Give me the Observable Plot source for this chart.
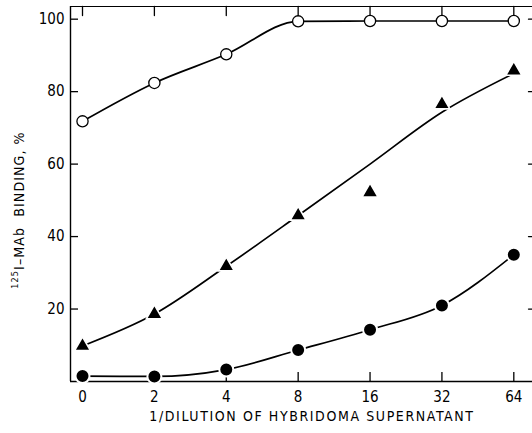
<!DOCTYPE html>
<html>
<head>
<meta charset="utf-8">
<script src="https://cdn.jsdelivr.net/npm/d3@7"></script>
<script src="https://cdn.jsdelivr.net/npm/@observablehq/plot@0.6"></script>
<style>
  html, body { margin: 0; padding: 0; background: #fff; }
  #chart svg { display: block; }
</style>
</head>
<body>
<div id="chart"></div>
<script>
// Categories (1/dilution), equally spaced
const dilutions = ["0", "2", "4", "8", "16", "32", "64"];
// Series values (% binding)
const openCircles   = [71.8, 82.4, 90.3, 99.4, 99.5, 99.5, 99.5];
const triangles     = [9.8, 18.6, 31.8, 45.8, 52.2, 76.5, 85.8];
const triangleFit   = [9.8, 18.6, 31.8, 45.8, 60.0, 74.3, 85.0];
const filledCircles = [1.5, 1.4, 3.3, 8.7, 14.3, 21.0, 35.0];
const yTicks = [20, 40, 60, 80, 100];

const idx = dilutions.map((_, i) => i);
const rows = (vals) => vals.map((v, i) => ({i, v}));

const font = "'DejaVu Sans Condensed', sans-serif";

// short straight tick drawn by a vector
const tickShape = {draw(context, l) { context.moveTo(0, 0); context.lineTo(0, -l); }};

const chart = Plot.plot({
  width: 532,
  height: 433,
  marginLeft: 70,
  marginRight: 0,
  marginTop: 6,
  marginBottom: 52,
  style: {fontFamily: font, fontSize: "15px", color: "#000", background: "#fff"},
  x: {domain: [-0.167, 6.26]},
  y: {domain: [0, 103.5]},
  marks: [
    // axes (inward ticks)
    Plot.axisY({ticks: yTicks, tickSize: -8, tickPadding: 14, tickFormat: d => String(d),
      label: null, fontSize: 15, strokeWidth: 1.3}),
    Plot.axisX({ticks: idx, tickSize: -9, tickPadding: 19, tickFormat: i => dilutions[i],
      label: null, fontSize: 15, strokeWidth: 1.3}),
    // right and top inward ticks
    Plot.vector(yTicks, {y: d => d, frameAnchor: "right", length: 4, rotate: -90,
      anchor: "start", shape: tickShape, stroke: "#000", strokeWidth: 1.3}),
    Plot.vector(idx, {x: d => d, frameAnchor: "top", length: 9, rotate: 180,
      anchor: "start", shape: tickShape, stroke: "#000", strokeWidth: 1.3}),
    // frame lines: left, bottom, top
    Plot.ruleX([-0.167], {stroke: "#000", strokeWidth: 1.4}),
    Plot.ruleY([0], {stroke: "#000", strokeWidth: 1.4}),
    Plot.ruleY([103.5], {stroke: "#000", strokeWidth: 1.2}),
    // curves
    Plot.line(rows(openCircles), {x: "i", y: "v", curve: "monotone-x", stroke: "#000", strokeWidth: 1.7}),
    Plot.line(rows(triangleFit), {x: "i", y: "v", curve: "monotone-x", stroke: "#000", strokeWidth: 1.7}),
    Plot.line(rows(filledCircles), {x: "i", y: "v", curve: "monotone-x", stroke: "#000", strokeWidth: 1.7}),
    // markers
    Plot.dot(rows(openCircles), {x: "i", y: "v", r: 5.6, fill: "#fff", stroke: "#000", strokeWidth: 1.3}),
    Plot.dot(rows(triangles), {x: "i", y: "v", symbol: "triangle", r: 5.9, fill: "#000", stroke: "#fff", strokeWidth: 1.6}),
    Plot.dot(rows(filledCircles), {x: "i", y: "v", r: 7, fill: "#000", stroke: "#fff", strokeWidth: 2}),
  ]
});

const svg = d3.select(chart);
// x axis title
svg.append("text")
  .attr("x", 312).attr("y", 421)
  .attr("text-anchor", "middle")
  .attr("font-family", font)
  .attr("font-size", 14)
  .attr("letter-spacing", "1.6px")
  .attr("fill", "#000")
  .text("1/DILUTION OF HYBRIDOMA SUPERNATANT");

// y axis title with superscript
const t = svg.append("text")
  .attr("transform", "translate(22,210) rotate(-90)")
  .attr("text-anchor", "middle")
  .attr("font-family", font)
  .attr("font-size", 14)
  .attr("letter-spacing", "1.1px")
  .attr("fill", "#000");
t.append("tspan").attr("font-size", 9).attr("dy", "-0.45em").text("125");
t.append("tspan").attr("dy", "0.45em").text("I\u2013MAb  BINDING, %");

document.getElementById("chart").appendChild(chart);
</script>
</body>
</html>
